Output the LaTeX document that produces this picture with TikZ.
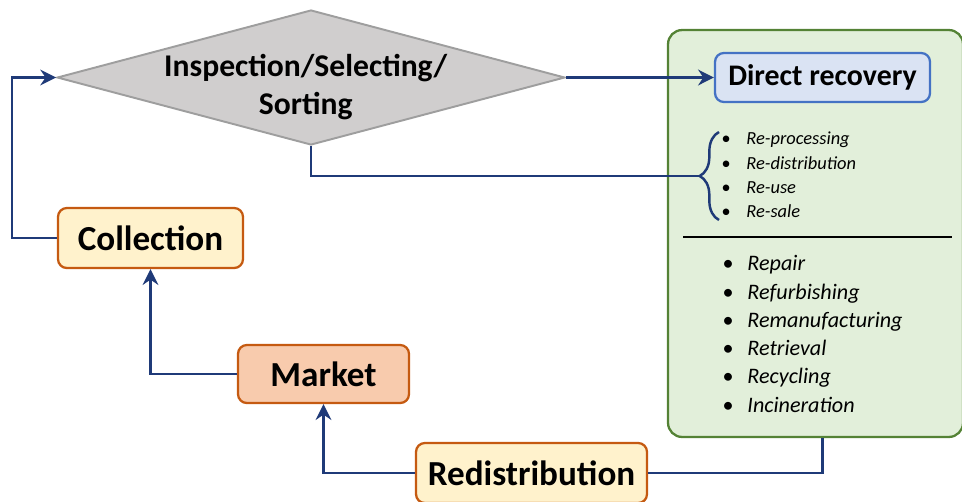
\documentclass[tikz,border=0pt]{standalone}
\usepackage{fontspec}
\setmainfont{Carlito}
\usetikzlibrary{shapes.geometric,arrows.meta,decorations.pathreplacing}
\definecolor{flowblue}{HTML}{1F3A78}
\definecolor{orline}{HTML}{C55A11}
\definecolor{orlight}{HTML}{FFF2CC}
\definecolor{ordark}{HTML}{F8CBAD}
\definecolor{grfill}{HTML}{E2EFDA}
\definecolor{grline}{HTML}{548235}
\definecolor{blfill}{HTML}{DAE3F3}
\definecolor{blline}{HTML}{4472C4}
\definecolor{diafill}{HTML}{D0CECE}
\definecolor{dialine}{HTML}{9E9E9E}
\tikzset{
  flow/.style={draw=flowblue,line width=1.4pt},
  arr/.style={flow,-{Stealth[length=9pt,width=9pt,inset=3pt]}},
  orbox/.style={draw=orline,fill=orlight,line width=1.3pt,rounded corners=5pt,
    inner sep=0pt,font=\bfseries\fontsize{20}{24}\selectfont},
  itemlist/.style={anchor=west,align=left,inner sep=0pt,font=\itshape},
}
\begin{document}
\begin{tikzpicture}[x=0.02cm,y=-0.02cm]
\useasboundingbox (0,0) rectangle (962,501);
% recovery panel
\node[draw=grline,fill=grfill,line width=1.3pt,rounded corners=8pt,
  minimum width=5.9cm,minimum height=8.14cm] (panel) at (815.5,233.5) {};
\node[draw=blline,fill=blfill,line width=1.3pt,rounded corners=5pt,
  minimum width=4.3cm,minimum height=0.98cm,
  font=\bfseries\fontsize{17}{20}\selectfont] (dirrec) at (822.5,77.5) {Direct recovery};
\node[itemlist,font=\itshape\fontsize{10.5}{13.8}\selectfont] (reitems) at (721,175)
  {\textbullet\hspace{9pt}Re-processing\\
   \textbullet\hspace{9pt}Re-distribution\\
   \textbullet\hspace{9pt}Re-use\\
   \textbullet\hspace{9pt}Re-sale};
\draw[line width=1.3pt] (683,237) -- (952,237);
\node[itemlist,font=\itshape\fontsize{12.6}{16.1}\selectfont] (recitems) at (722,334)
  {\textbullet\hspace{8pt}Repair\\
   \textbullet\hspace{8pt}Refurbishing\\
   \textbullet\hspace{8pt}Remanufacturing\\
   \textbullet\hspace{8pt}Retrieval\\
   \textbullet\hspace{8pt}Recycling\\
   \textbullet\hspace{8pt}Incineration};
% decision
\node[diamond,draw=dialine,fill=diafill,line width=1.1pt,inner sep=0pt,
  minimum width=10.16cm,minimum height=2.7cm,
  label={[align=center,xshift=-3pt,yshift=-5.5pt,font=\bfseries\fontsize{18}{21.5}\selectfont]center:Inspection/Selecting/\\Sorting}]
  (insp) at (311,77.5) {};
% flow boxes
\node[orbox,minimum width=3.7cm,minimum height=1.2cm] (coll) at (150.5,238) {Collection};
\node[orbox,fill=ordark,minimum width=3.42cm,minimum height=1.16cm] (market) at (323.5,374) {Market};
\node[orbox,minimum width=4.62cm,minimum height=1.2cm] (redis) at (531.5,473) {Redistribution};
\draw[flow,decorate,decoration={brace,amplitude=11pt}] (719,220) -- (719,132);
\coordinate (bracetip) at (700,176);
% connectors
\draw[arr] (insp.east) -- (dirrec.west);
\draw[flow] (insp.south) |- (bracetip);
\draw[arr] (coll.west) -- ++(-45,0) |- (insp.west);
\draw[arr] (market.west) -| (coll.south);
\draw[arr] (redis.west) -| (market.south);
\draw[flow] (redis.east) -| (dirrec.south |- panel.south);
\end{tikzpicture}
\end{document}
